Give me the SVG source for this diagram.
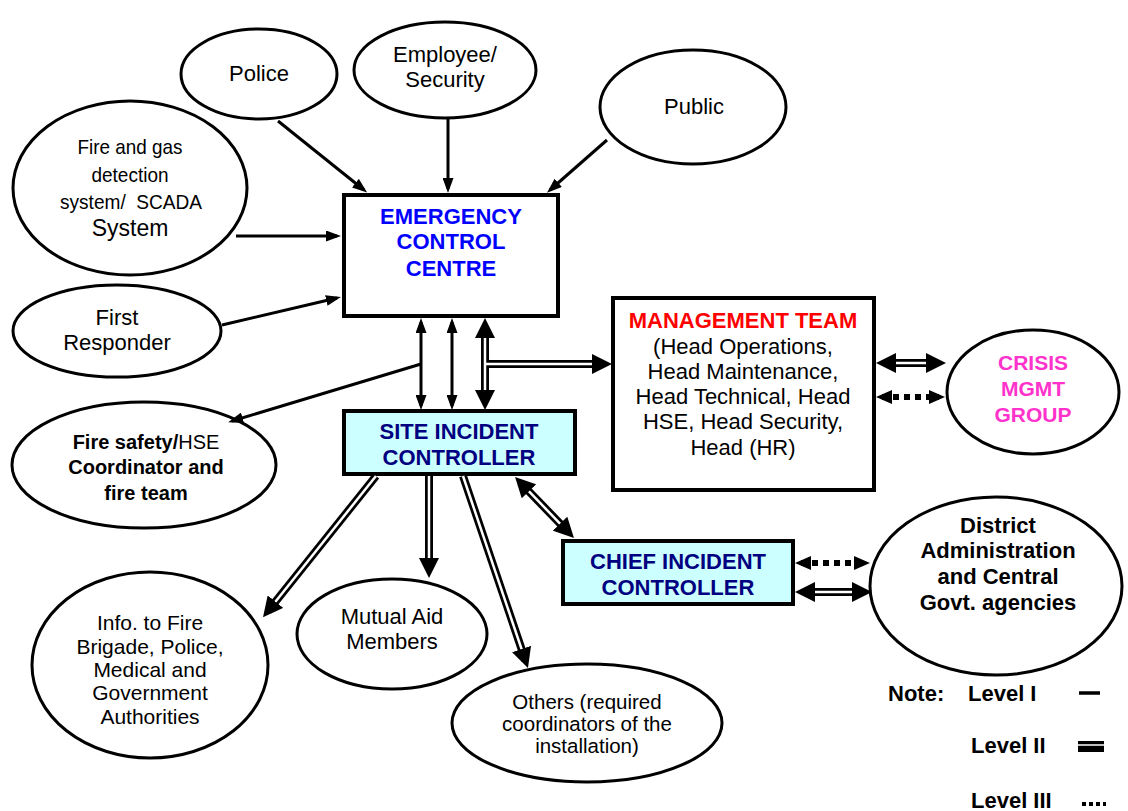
<svg xmlns="http://www.w3.org/2000/svg" width="1128" height="811" viewBox="0 0 1128 811">
<style>
text{font-family:"Liberation Sans",Arial,sans-serif;font-size:22px;fill:#000;text-anchor:middle}
.b{font-weight:bold}
.ell{fill:#fff;stroke:#000;stroke-width:3}
.box{fill:#fff;stroke:#000;stroke-width:4}
.cyan{fill:#ccffff}
.l1{stroke:#000;stroke-width:3;fill:none}
.l2b{stroke:#000;stroke-width:8;fill:none}
.l2w{stroke:#fff;stroke-width:2.5;fill:none}
.l3{stroke:#000;stroke-width:6;fill:none;stroke-dasharray:6 5}
.lg{text-anchor:start;font-weight:bold;font-size:22px}
.nar{font-size:21px}
</style>
<defs>
<marker id="a1" markerUnits="userSpaceOnUse" markerWidth="15" markerHeight="11" refX="11" refY="5.5" orient="auto-start-reverse"><path d="M0,0 L15,5.5 L0,11 z" fill="#000"/></marker>
<marker id="a2" markerUnits="userSpaceOnUse" markerWidth="20" markerHeight="20" refX="12" refY="10" orient="auto-start-reverse"><path d="M0,0 L20,10 L0,20 z" fill="#000"/></marker>
<marker id="a3" markerUnits="userSpaceOnUse" markerWidth="16" markerHeight="14" refX="10" refY="7" orient="auto-start-reverse"><path d="M0,0 L16,7 L0,14 z" fill="#000"/></marker>
</defs>
<rect width="1128" height="811" fill="#fff"/>

<g id="police"><ellipse class="ell" cx="259" cy="74" rx="78" ry="45"/><text x="259" y="81">Police</text></g>
<g id="employee"><ellipse class="ell" cx="445" cy="70" rx="91" ry="48"/><text x="445" y="62">Employee/</text><text x="445" y="87">Security</text></g>
<g id="public"><ellipse class="ell" cx="693" cy="107" rx="93" ry="57"/><text x="694" y="114">Public</text></g>
<g id="firegas"><ellipse class="ell" cx="130" cy="188" rx="117" ry="87"/>
<text x="130" y="154" class="nar" textLength="105" lengthAdjust="spacingAndGlyphs">Fire and gas</text>
<text x="130" y="182" class="nar" textLength="77" lengthAdjust="spacingAndGlyphs">detection</text>
<text x="131" y="209" class="nar" xml:space="preserve" textLength="142" lengthAdjust="spacingAndGlyphs">system/  SCADA</text>
<text x="130" y="236" style="font-size:23px">System</text></g>
<g id="firstresponder"><ellipse class="ell" cx="117" cy="331" rx="104" ry="46"/><text x="117" y="325">First</text><text x="117" y="350">Responder</text></g>
<g id="firesafety"><ellipse class="ell" cx="144" cy="465" rx="132" ry="63"/>
<text x="146" y="449" style="font-size:20px"><tspan class="b">Fire safety/</tspan>HSE</text>
<text x="146" y="474" class="b" style="font-size:20px">Coordinator and</text>
<text x="146" y="500" class="b" style="font-size:20px">fire team</text></g>
<g id="ecc"><rect class="box" x="344" y="195" width="214" height="121"/>
<text x="451" y="224" class="b" style="fill:#0000ff">EMERGENCY</text>
<text x="451" y="249" class="b" style="fill:#0000ff">CONTROL</text>
<text x="451" y="276" class="b" style="fill:#0000ff">CENTRE</text></g>
<g id="mgmt"><rect class="box" x="613" y="298" width="261" height="192"/>
<text x="743" y="328" class="b" style="fill:#ff0000">MANAGEMENT TEAM</text>
<text x="743" y="354">(Head Operations,</text>
<text x="743" y="379">Head Maintenance,</text>
<text x="743" y="404">Head Technical, Head</text>
<text x="743" y="429">HSE, Head Security,</text>
<text x="743" y="455">Head (HR)</text></g>
<g id="crisis"><ellipse class="ell" cx="1033" cy="392" rx="86" ry="62"/>
<text x="1033" y="370" class="b" style="fill:#ff33cc;font-size:21px">CRISIS</text>
<text x="1033" y="396" class="b" style="fill:#ff33cc;font-size:21px">MGMT</text>
<text x="1033" y="422" class="b" style="fill:#ff33cc;font-size:21px">GROUP</text></g>
<g id="sic"><rect class="box cyan" x="344" y="411" width="231" height="63"/>
<text x="459" y="439" class="b" style="fill:#000080">SITE INCIDENT</text>
<text x="459" y="465" class="b" style="fill:#000080">CONTROLLER</text></g>
<g id="cic"><rect class="box cyan" x="563" y="541" width="230" height="63"/>
<text x="678" y="569" class="b" style="fill:#000080">CHIEF INCIDENT</text>
<text x="678" y="595" class="b" style="fill:#000080">CONTROLLER</text></g>
<g id="district"><ellipse class="ell" cx="996" cy="586" rx="126" ry="89"/>
<text x="998" y="533" class="b">District</text>
<text x="998" y="558" class="b">Administration</text>
<text x="998" y="584" class="b">and Central</text>
<text x="998" y="610" class="b">Govt. agencies</text></g>
<g id="info"><ellipse class="ell" cx="150" cy="665" rx="118" ry="93"/>
<text x="150" y="630" style="font-size:21px">Info. to Fire</text>
<text x="150" y="654" style="font-size:21px">Brigade, Police,</text>
<text x="150" y="677" style="font-size:21px">Medical and</text>
<text x="150" y="700" style="font-size:21px">Government</text>
<text x="150" y="724" style="font-size:21px">Authorities</text></g>
<g id="mutual"><ellipse class="ell" cx="392" cy="634" rx="95" ry="55"/>
<text x="392" y="624">Mutual Aid</text><text x="392" y="649">Members</text></g>
<g id="others"><ellipse class="ell" cx="587" cy="723" rx="135" ry="59"/>
<text x="587" y="709" style="font-size:20.5px">Others (required</text>
<text x="587" y="731" style="font-size:20.5px">coordinators of the</text>
<text x="587" y="753" style="font-size:20.5px">installation)</text></g>

<g id="connectors">
<path class="l1" d="M278,121 L364,190" marker-end="url(#a1)"/>
<path class="l1" d="M448,119 L448,189" marker-end="url(#a1)"/>
<path class="l1" d="M607,140 L550,190" marker-end="url(#a1)"/>
<path class="l1" d="M236,236 L337,236" marker-end="url(#a1)"/>
<path class="l1" d="M222,325 L337,298" marker-end="url(#a1)"/>
<path class="l1" d="M421,322 L421,406" marker-start="url(#a1)" marker-end="url(#a1)"/>
<path class="l1" d="M452,322 L452,406" marker-start="url(#a1)" marker-end="url(#a1)"/>
<path class="l1" d="M421,364 L232,421" marker-end="url(#a1)"/>

<path class="l2b" d="M485,326 L485,402"/>
<path class="l2b" d="M485,364 L604,364"/>
<path class="l2w" d="M485,326 L485,402" marker-start="url(#a2)" marker-end="url(#a2)"/>
<path class="l2w" d="M486,364 L604,364" marker-end="url(#a2)"/>

<path class="l2b" d="M884,363 L938,363"/>
<path class="l2w" d="M884,363 L938,363" marker-start="url(#a2)" marker-end="url(#a2)"/>
<path class="l3" d="M882,397 L939,397" marker-start="url(#a3)" marker-end="url(#a3)"/>

<path class="l3" d="M801,563 L864,563" marker-start="url(#a3)" marker-end="url(#a3)"/>
<path class="l2b" d="M803,592 L864,592"/>
<path class="l2w" d="M803,592 L864,592" marker-start="url(#a2)" marker-end="url(#a2)"/>

<path class="l2b" d="M376,476 L268,611"/>
<path class="l2w" d="M376,476 L268,611" marker-end="url(#a2)"/>
<path class="l2b" d="M429,476 L429,570"/>
<path class="l2w" d="M429,476 L429,570" marker-end="url(#a2)"/>
<path class="l2b" d="M463,476 L525.4,660.4"/>
<path class="l2w" d="M463,476 L525.4,660.4" marker-end="url(#a2)"/>
<path class="l2b" d="M520.6,482.7 L568.4,532.3"/>
<path class="l2w" d="M520.6,482.7 L568.4,532.3" marker-start="url(#a2)" marker-end="url(#a2)"/>
</g>

<g id="legend">
<text x="888" y="701" class="lg">Note:</text>
<text x="968" y="701" class="lg">Level I</text>
<line x1="1079" y1="693" x2="1100" y2="693" stroke="#000" stroke-width="3.5"/>
<text x="971" y="753" class="lg">Level II</text>
<rect x="1078" y="741" width="26" height="11" fill="#000"/>
<line x1="1078" y1="745" x2="1104" y2="745" stroke="#fff" stroke-width="1.5"/>
<text x="971" y="808" class="lg">Level III</text>
<line x1="1082" y1="804" x2="1106" y2="804" stroke="#000" stroke-width="4" stroke-dasharray="4 3"/>
</g>
</svg>
